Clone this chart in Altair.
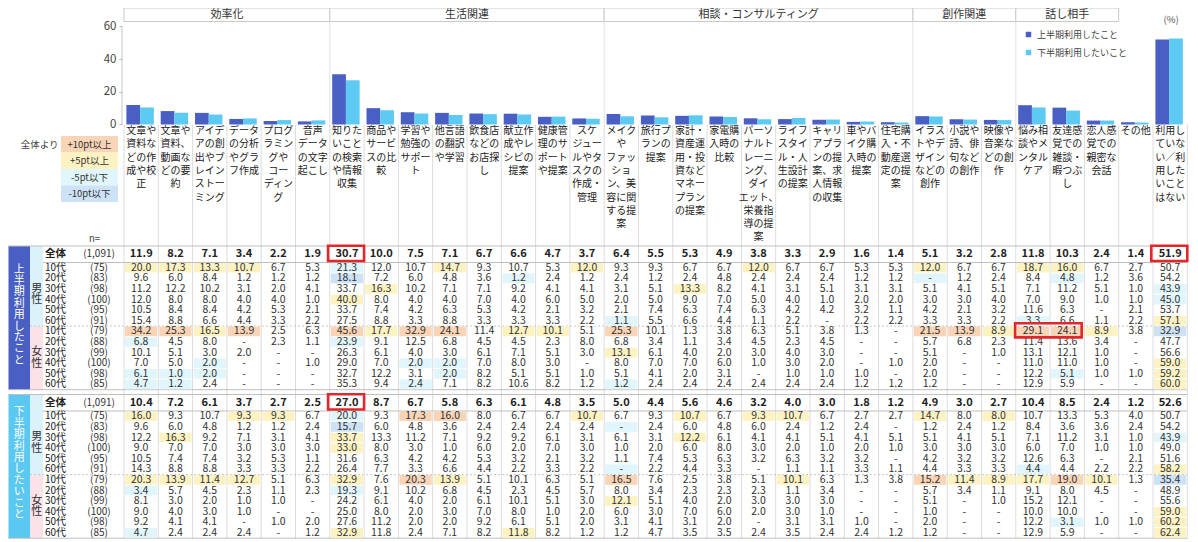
import altair as alt
import pandas as pd

FONT = "Noto Sans CJK JP"

# ---------------- data ----------------
group_names = ["効率化", "生活関連", "相談・コンサルティング", "創作関連", "話し相手"]
group_start = [0, 6, 14, 23, 26]
group_end = [6, 14, 23, 26, 29]

cat_labels = [
    "文章や\n資料な\nどの作\n成や校\n正",
    "文章や\n資料、\n動画な\nどの要\n約",
    "アイデ\nアの創\n出やブ\nレイン\nストー\nミング",
    "データ\nの分析\nやグラ\nフ作成",
    "プログ\nラミン\nグや\nコー\nディン\nグ",
    "音声\nデータ\nの文字\n起こし",
    "知りた\nいこと\nの検索\nや情報\n収集",
    "商品や\nサービ\nスの比\n較",
    "学習や\n勉強の\nサポー\nト",
    "他言語\nの翻訳\nや学習",
    "飲食店\nなどの\nお店探\nし",
    "献立作\n成やレ\nシピの\n提案",
    "健康管\n理のサ\nポート\nや提案",
    "スケ\nジュー\nルやタ\nスクの\n作成・\n管理",
    "メイク\nや\nファッ\nショ\nン、美\n容に関\nする提\n案",
    "旅行プ\nランの\n提案",
    "家計・\n資産運\n用・投\n資など\nマネー\nプラン\nの提案",
    "家電購\n入時の\n比較",
    "パーソ\nナルト\nレーニ\nング、\nダイ\nエット、\n栄養指\n導の提\n案",
    "ライフ\nスタイ\nル・人\n生設計\nの提案",
    "キャリ\nアプラ\nンの提\n案、求\n人情報\nの収集",
    "車やバ\nイク購\n入時の\n提案",
    "住宅購\n入・不\n動産選\n定の提\n案",
    "イラス\nトやデ\nザイン\nなどの\n創作",
    "小説や\n詩、俳\n句など\nの創作",
    "映像や\n音楽な\nどの創\n作",
    "悩み相\n談やメ\nンタル\nケア",
    "友達感\n覚での\n雑談・\n暇つぶ\nし",
    "恋人感\n覚での\n親密な\n会話",
    "その他",
    "利用し\nていな\nい／利\n用した\nいこと\nはない",
]

series_names = ["上半期利用したこと", "下半期利用したいこと"]
series_colors = ["#4a5fc4", "#5ccaf2"]

ages = ["10代", "20代", "30代", "40代", "50代", "60代"]
n_total = 1091
n_male = [75, 83, 98, 100, 95, 91]
n_female = [79, 88, 99, 100, 98, 85]

_ = None
# 上半期利用したこと
h1_total = [11.9, 8.2, 7.1, 3.4, 2.2, 1.9, 30.7, 10.0, 7.5, 7.1, 6.7, 6.6, 4.7, 3.7, 6.4, 5.5, 5.3, 4.9, 3.8, 3.3, 2.9, 1.6, 1.4, 5.1, 3.2, 2.8, 11.8, 10.3, 2.4, 1.4, 51.9]
h1_m10 = [20.0, 17.3, 13.3, 10.7, 6.7, 5.3, 21.3, 12.0, 10.7, 14.7, 9.3, 10.7, 5.3, 12.0, 9.3, 9.3, 6.7, 6.7, 12.0, 6.7, 6.7, 5.3, 5.3, 12.0, 6.7, 6.7, 18.7, 16.0, 6.7, 2.7, 50.7]
h1_m20 = [9.6, 6.0, 8.4, 1.2, 1.2, 1.2, 18.1, 7.2, 6.0, 4.8, 3.6, 1.2, 2.4, 1.2, 2.4, 1.2, 2.4, 4.8, 2.4, 2.4, 2.4, 1.2, 1.2, _, 1.2, 2.4, 8.4, 4.8, 1.2, 3.6, 54.2]
h1_m30 = [11.2, 12.2, 10.2, 3.1, 2.0, 4.1, 33.7, 16.3, 10.2, 7.1, 7.1, 9.2, 4.1, 4.1, 3.1, 5.1, 13.3, 8.2, 4.1, 3.1, 5.1, 3.1, 3.1, 5.1, 4.1, 5.1, 7.1, 11.2, 5.1, 1.0, 43.9]
h1_m40 = [12.0, 8.0, 8.0, 4.0, 4.0, 1.0, 40.0, 8.0, 4.0, 4.0, 7.0, 4.0, 6.0, 5.0, 2.0, 5.0, 9.0, 7.0, 5.0, 4.0, 1.0, 2.0, 2.0, 3.0, 3.0, 4.0, 7.0, 9.0, 1.0, 1.0, 45.0]
h1_m50 = [10.5, 8.4, 8.4, 4.2, 5.3, 2.1, 33.7, 7.4, 4.2, 6.3, 5.3, 4.2, 2.1, 3.2, 2.1, 7.4, 6.3, 7.4, 6.3, 4.2, 4.2, 3.2, 1.1, 4.2, 2.1, 3.2, 11.6, 6.3, _, 2.1, 53.7]
h1_m60 = [15.4, 8.8, 6.6, 4.4, 3.3, 2.2, 27.5, 8.8, 3.3, 8.8, 3.3, 3.3, 3.3, 2.2, 1.1, 5.5, 6.6, 4.4, 1.1, 2.2, _, 2.2, 2.2, 3.3, 3.3, 2.2, 3.3, 6.6, 1.1, 2.2, 57.1]
h1_f10 = [34.2, 25.3, 16.5, 13.9, 2.5, 6.3, 45.6, 17.7, 32.9, 24.1, 11.4, 12.7, 10.1, 5.1, 25.3, 10.1, 1.3, 3.8, 6.3, 5.1, 3.8, 1.3, _, 21.5, 13.9, 8.9, 29.1, 24.1, 8.9, 3.8, 32.9]
h1_f20 = [6.8, 4.5, 8.0, _, 2.3, 1.1, 23.9, 9.1, 12.5, 6.8, 4.5, 4.5, 2.3, 8.0, 6.8, 3.4, 1.1, 3.4, 4.5, 2.3, 4.5, _, _, 5.7, 6.8, 2.3, 11.4, 13.6, 3.4, _, 47.7]
h1_f30 = [10.1, 5.1, 3.0, 2.0, _, _, 26.3, 6.1, 4.0, 3.0, 6.1, 7.1, 5.1, 3.0, 13.1, 6.1, 4.0, 2.0, 3.0, 4.0, 3.0, _, _, 5.1, _, 1.0, 13.1, 12.1, 1.0, _, 56.6]
h1_f40 = [7.0, 5.0, 2.0, _, _, 1.0, 29.0, 7.0, 2.0, 2.0, 7.0, 8.0, 3.0, _, 8.0, 7.0, 7.0, 6.0, 1.0, 3.0, 2.0, _, 1.0, 2.0, _, _, 11.0, 11.0, 1.0, _, 59.0]
h1_f50 = [6.1, 1.0, 2.0, _, _, _, 32.7, 12.2, 3.1, 2.0, 8.2, 5.1, 5.1, 1.0, 5.1, 4.1, 2.0, 3.1, _, 1.0, 1.0, 1.0, _, 2.0, _, _, 12.2, 5.1, 1.0, 1.0, 59.2]
h1_f60 = [4.7, 1.2, 2.4, _, _, _, 35.3, 9.4, 2.4, 7.1, 8.2, 10.6, 8.2, 1.2, 1.2, 2.4, 2.4, 2.4, 2.4, 2.4, 2.4, 1.2, 1.2, 1.2, _, _, 12.9, 5.9, _, _, 60.0]

# 下半期利用したいこと
h2_total = [10.4, 7.2, 6.1, 3.7, 2.7, 2.5, 27.0, 8.7, 6.7, 5.8, 6.3, 6.1, 4.8, 3.5, 5.0, 4.4, 5.6, 4.6, 3.2, 4.0, 3.0, 1.8, 1.2, 4.9, 3.0, 2.7, 10.4, 8.5, 2.4, 1.2, 52.6]
h2_m10 = [16.0, 9.3, 10.7, 9.3, 9.3, 6.7, 20.0, 9.3, 17.3, 16.0, 8.0, 6.7, 6.7, 10.7, 6.7, 9.3, 10.7, 6.7, 9.3, 10.7, 6.7, 2.7, 2.7, 14.7, 8.0, 8.0, 10.7, 13.3, 5.3, 4.0, 50.7]
h2_m20 = [9.6, 6.0, 4.8, 1.2, 1.2, 2.4, 15.7, 6.0, 4.8, 3.6, 2.4, 2.4, 2.4, 2.4, _, 2.4, 6.0, 4.8, 6.0, 2.4, 1.2, 2.4, _, 1.2, 2.4, 1.2, 8.4, 3.6, 3.6, 2.4, 54.2]
h2_m30 = [12.2, 16.3, 9.2, 7.1, 3.1, 4.1, 33.7, 13.3, 11.2, 7.1, 9.2, 9.2, 6.1, 3.1, 6.1, 3.1, 12.2, 6.1, 4.1, 4.1, 5.1, 4.1, 5.1, 5.1, 4.1, 5.1, 7.1, 11.2, 3.1, 1.0, 43.9]
h2_m40 = [9.0, 7.0, 7.0, 3.0, 3.0, 3.0, 33.0, 8.0, 3.0, 1.0, 6.0, 2.0, 7.0, 3.0, 1.0, 2.0, 6.0, 8.0, 3.0, 2.0, 1.0, 2.0, 1.0, 3.0, 3.0, 3.0, 6.0, 7.0, 1.0, 1.0, 49.0]
h2_m50 = [10.5, 7.4, 7.4, 3.2, 5.3, 1.1, 31.6, 6.3, 4.2, 4.2, 5.3, 3.2, 2.1, 3.2, 1.1, 7.4, 5.3, 6.3, 3.2, 6.3, 3.2, 3.2, _, 4.2, 3.2, 3.2, 12.6, 6.3, _, 2.1, 51.6]
h2_m60 = [14.3, 8.8, 8.8, 3.3, 3.3, 2.2, 26.4, 7.7, 3.3, 6.6, 4.4, 2.2, 3.3, 2.2, _, 2.2, 4.4, 3.3, _, 1.1, 1.1, 3.3, 1.1, 4.4, 3.3, 3.3, 4.4, 4.4, 2.2, 2.2, 58.2]
h2_f10 = [20.3, 13.9, 11.4, 12.7, 5.1, 6.3, 32.9, 7.6, 20.3, 13.9, 5.1, 10.1, 6.3, 5.1, 16.5, 7.6, 2.5, 3.8, 5.1, 10.1, 6.3, 1.3, 3.8, 15.2, 11.4, 8.9, 17.7, 19.0, 10.1, 1.3, 35.4]
h2_f20 = [3.4, 5.7, 4.5, 2.3, 1.1, 2.3, 19.3, 9.1, 10.2, 6.8, 4.5, 2.3, 4.5, 5.7, 8.0, 3.4, 2.3, 2.3, 2.3, 1.1, 3.4, _, _, 5.7, 3.4, 1.1, 9.1, 8.0, 4.5, _, 48.9]
h2_f30 = [8.1, 3.0, 2.0, 1.0, 1.0, _, 24.2, 6.1, 4.0, 2.0, 6.1, 10.1, 5.1, 3.0, 12.1, 5.1, 4.0, 2.0, 3.0, 3.0, 3.0, _, _, 5.1, _, 1.0, 15.2, 12.1, _, _, 55.6]
h2_f40 = [9.0, 4.0, 3.0, 1.0, _, _, 25.0, 8.0, 2.0, 3.0, 7.0, 8.0, 1.0, 2.0, 6.0, 3.0, 7.0, 6.0, 2.0, 3.0, 1.0, _, _, 1.0, _, _, 10.0, 10.0, _, _, 59.0]
h2_f50 = [9.2, 4.1, 4.1, _, 1.0, 2.0, 27.6, 11.2, 2.0, 2.0, 9.2, 6.1, 5.1, 2.0, 3.1, 4.1, 3.1, 2.0, _, 3.1, 3.1, 1.0, _, 2.0, _, _, 12.2, 3.1, 1.0, 1.0, 60.2]
h2_f60 = [4.7, 2.4, 2.4, 2.4, _, 1.2, 32.9, 11.8, 2.4, 7.1, 8.2, 11.8, 8.2, 1.2, 1.2, 4.7, 3.5, 3.5, 2.4, 3.5, 2.4, 2.4, 1.2, 1.2, _, _, 12.9, 5.9, _, _, 62.4]

diff_labels = ["+10pt以上", "+5pt以上", "-5pt以下", "-10pt以下"]
diff_colors = ["#f9d4b6", "#fdf3c2", "#e0f5fc", "#cde2f6"]
highlight_cells = [(0, "total", 6), (0, "total", 30), (1, "total", 6)]
highlight_span = (0, "f10", 26, 28)

# ---------------- layout helpers ----------------
COLW = 34.3
X0 = 124.0


def U(px):
    return (px - X0) / COLW


XS = alt.Scale(domain=[U(8), U(1190)], nice=False, zero=False)
TY = alt.Scale(domain=[5, 537], reverse=True, nice=False, zero=False)
BY = alt.Scale(domain=[-253.87, 71.18], nice=False, zero=False)


def X(f="x"):
    return alt.X(f + ":Q", scale=XS, axis=None)


def YT(f="y"):
    return alt.Y(f + ":Q", scale=TY, axis=None)


ROWH = 10.6
SEC_LH = 11.4
sections = [
    dict(top=243.0, title="上半期利用したこと", color="#4a5fc4",
         total=h1_total, male=[h1_m10, h1_m20, h1_m30, h1_m40, h1_m50, h1_m60],
         female=[h1_f10, h1_f20, h1_f30, h1_f40, h1_f50, h1_f60]),
    dict(top=391.5, title="下半期利用したいこと", color="#5ac8f0",
         total=h2_total, male=[h2_m10, h2_m20, h2_m30, h2_m40, h2_m50, h2_m60],
         female=[h2_f10, h2_f20, h2_f30, h2_f40, h2_f50, h2_f60]),
]


def diff_color(v, t, n):
    ve = round((v or 0.0) * n / 100.0) / n * 100.0
    te = round(t * n_total / 100.0) / n_total * 100.0
    d = ve - te
    if d >= 10:
        return diff_colors[0]
    if d >= 5:
        return diff_colors[1]
    if d <= -10:
        return diff_colors[3]
    if d <= -5:
        return diff_colors[2]
    return None


def fmt(v):
    return "-" if v is None else f"{v:.1f}"


cells_bg, cells_txt, total_txt = [], [], []
row_lbl, n_lbl, total_lbl = [], [], []
sec_rects, sec_text, sex_rects, sex_text, hlines, dlines, red = [], [], [], [], [], [], []
row_centers = {}

for si, s in enumerate(sections):
    top = s["top"]
    data_top = top + 16.5
    bottom = data_top + 12 * ROWH
    tc = top + 8.2
    row_centers[(si, "total")] = tc
    for c, v in enumerate(s["total"]):
        total_txt.append(dict(x=c + 0.5, y=tc, t=fmt(v)))
    total_lbl.append(dict(x=U(45), y=tc, t="全体"))
    n_lbl.append(dict(x=U(99), y=tc, t=f"({n_total:,})"))
    rows = [("m", k, s["male"][k], n_male[k]) for k in range(6)] + \
           [("f", k, s["female"][k], n_female[k]) for k in range(6)]
    for r, (sex, k, vals, n) in enumerate(rows):
        yc = data_top + ROWH * r + ROWH / 2
        row_centers[(si, f"{sex}{k + 1}0")] = yc
        row_lbl.append(dict(x=U(45), y=yc, t=ages[k]))
        n_lbl.append(dict(x=U(99), y=yc, t=f"({n})"))
        for c, v in enumerate(vals):
            col = diff_color(v, s["total"][c], n)
            if col:
                cells_bg.append(dict(x=c + 0.03, x2=c + 0.97, y=yc - ROWH / 2 + 0.5,
                                     y2=yc + ROWH / 2 - 0.5, fill=col))
            cells_txt.append(dict(x=c + 0.5, y=yc, t=fmt(v)))
    mid = data_top + 6 * ROWH
    sec_rects.append(dict(x=U(8.5), x2=U(30), y=top, y2=bottom, fill=s["color"]))
    nch = len(s["title"])
    sec_text.append(dict(x=U(19.2), y=(top + bottom) / 2 - 3 - nch * SEC_LH / 2, t="\n".join(s["title"])))
    sex_rects.append(dict(x=U(30), x2=U(43), y=top, y2=mid, fill="#dcf2fb"))
    sex_rects.append(dict(x=U(30), x2=U(43), y=mid, y2=bottom, fill="#fbe2e7"))
    sex_text.append(dict(x=U(36.8), y=(data_top + mid) / 2 - 11.5, t="男\n性"))
    sex_text.append(dict(x=U(36.8), y=(mid + bottom) / 2 - 11.5, t="女\n性"))
    hlines += [dict(x=U(8), x2=U(1187), y=top), dict(x=U(43), x2=U(1187), y=data_top),
               dict(x=U(8), x2=U(1187), y=bottom)]
    dlines.append(dict(x=U(30), x2=U(1187), y=mid))

for si, key, c in highlight_cells:
    yc = row_centers[(si, key)]
    red.append(dict(x=c - 0.05, x2=c + 1.0, y=yc - 8.5, y2=yc + 6.8))
si, key, c0, c1 = highlight_span
yc = row_centers[(si, key)]
red.append(dict(x=c0 - 0.02, x2=c1 - 0.08, y=yc - 8.2, y2=yc + 6.0))

DF = pd.DataFrame
layers = []

# group header boxes
gh = DF(dict(x=group_start, x2=group_end, y=[5.0] * 5, y2=[18.5] * 5,
             xc=[(a + b) / 2 for a, b in zip(group_start, group_end)], yc=[12.0] * 5, t=group_names))
layers.append(alt.Chart(gh).mark_rect(fill="white", stroke="#c9c9c9", strokeWidth=1).encode(
    x=X(), x2="x2:Q", y=YT(), y2="y2:Q"))
layers.append(alt.Chart(gh).mark_text(font=FONT, fontSize=11, color="#333333", baseline="middle").encode(
    x=X("xc"), y=YT("yc"), text="t:N"))

# group separators in bar area
gsep = DF(dict(x=[6, 14, 23, 26], y=[18.5] * 4, y2=[121.5] * 4))
layers.append(alt.Chart(gsep).mark_rule(color="#e2e2e2", strokeWidth=1).encode(x=X(), y=YT(), y2="y2:Q"))

# column separators (label area + table)
csep = DF(dict(x=list(range(0, 32)), y=[121.5] * 32, y2=[536.0] * 32))
layers.append(alt.Chart(csep).mark_rule(color="#dcdcdc", strokeWidth=1).encode(x=X(), y=YT(), y2="y2:Q"))

# bars
bar_rows = []
for i in range(len(cat_labels)):
    for s_i, vals in enumerate([h1_total, h2_total]):
        bar_rows.append(dict(x=i + 0.07 + 0.40 * s_i, x2=i + 0.47 + 0.40 * s_i, v=vals[i], v0=0.0,
                             series=series_names[s_i]))
bars = DF(bar_rows)
layers.append(alt.Chart(bars).mark_rect().encode(
    x=X(), x2="x2:Q",
    y=alt.Y("v:Q", scale=BY, axis=alt.Axis(values=[0, 20, 40, 60], offset=-114, domain=False, grid=False,
                                           tickSize=3, tickColor="#bbbbbb", labelFont=FONT, labelFontSize=11.5,
                                           labelColor="#444444", labelPadding=3, title=None)),
    y2="v0:Q",
    color=alt.Color("series:N", scale=alt.Scale(domain=series_names, range=series_colors),
                    legend=alt.Legend(orient="none", legendX=1016, legendY=22, title=None, symbolType="square",
                                      symbolSize=30, labelFont=FONT, labelFontSize=9, labelColor="#444444",
                                      rowPadding=8, symbolStrokeWidth=0)),
))
axl = DF(dict(x=[-0.06], v=[0.0], v2=[60.0]))
layers.append(alt.Chart(axl).mark_rule(color="#c4c4c4", strokeWidth=1).encode(
    x=X(), y=alt.Y("v:Q", scale=BY, axis=None), y2="v2:Q"))

# category labels
cl = DF(dict(x=[i + 0.5 for i in range(len(cat_labels))], y=[123.0] * len(cat_labels), t=cat_labels))
layers.append(alt.Chart(cl).mark_text(font=FONT, fontSize=10, color="#222222", baseline="top",
                                      lineBreak="\n", lineHeight=13.3).encode(x=X(), y=YT(), text="t:N"))

# diff legend
lg = DF(dict(x=[U(61)] * 4, x2=[U(118)] * 4, y=[133.0, 149.5, 166.0, 182.5], y2=[149.5, 166.0, 182.5, 199.0],
             fill=diff_colors, xc=[U(89.5)] * 4, yc=[141.5, 158.0, 174.5, 191.0], t=diff_labels))
layers.append(alt.Chart(lg).mark_rect().encode(x=X(), x2="x2:Q", y=YT(), y2="y2:Q",
                                               fill=alt.Fill("fill:N", scale=None)))
layers.append(alt.Chart(lg).mark_text(font=FONT, fontSize=9.5, color="#333333").encode(
    x=X("xc"), y=YT("yc"), text="t:N"))
misc_r = DF(dict(x=[U(58.5), U(100)], y=[141.5, 236.0], t=["全体より", "n="]))
layers.append(alt.Chart(misc_r).mark_text(font=FONT, fontSize=9.5, color="#444444", align="right").encode(
    x=X(), y=YT(), text="t:N"))
misc_c = DF(dict(x=[U(1171)], y=[16.5], t=["(%)"]))
layers.append(alt.Chart(misc_c).mark_text(font=FONT, fontSize=9.5, color="#555555", align="center").encode(
    x=X(), y=YT(), text="t:N"))

# table: section bars & sex column
layers.append(alt.Chart(DF(sec_rects)).mark_rect().encode(x=X(), x2="x2:Q", y=YT(), y2="y2:Q",
                                                          fill=alt.Fill("fill:N", scale=None)))
layers.append(alt.Chart(DF(sec_text)).mark_text(font=FONT, fontSize=11, color="white", lineBreak="\n",
                                                lineHeight=SEC_LH, baseline="top").encode(
    x=X(), y=YT(), text="t:N"))
layers.append(alt.Chart(DF(sex_rects)).mark_rect().encode(x=X(), x2="x2:Q", y=YT(), y2="y2:Q",
                                                          fill=alt.Fill("fill:N", scale=None)))
layers.append(alt.Chart(DF(sex_text)).mark_text(font=FONT, fontSize=11, color="#333333", lineBreak="\n",
                                                lineHeight=11.5, baseline="top").encode(
    x=X(), y=YT(), text="t:N"))

# table lines
layers.append(alt.Chart(DF(hlines)).mark_rule(color="#bfbfbf", strokeWidth=1).encode(x=X(), x2="x2:Q", y=YT()))
layers.append(alt.Chart(DF(dlines)).mark_rule(color="#c8c8c8", strokeWidth=1, strokeDash=[2, 2]).encode(
    x=X(), x2="x2:Q", y=YT()))

# cells
layers.append(alt.Chart(DF(cells_bg)).mark_rect().encode(x=X(), x2="x2:Q", y=YT(), y2="y2:Q",
                                                         fill=alt.Fill("fill:N", scale=None)))
layers.append(alt.Chart(DF(cells_txt)).mark_text(font=FONT, fontSize=10.5, color="#333333", baseline="middle").encode(
    x=X(), y=YT(), text="t:N"))
layers.append(alt.Chart(DF(total_txt)).mark_text(font=FONT, fontSize=11, fontWeight="bold", color="#222222",
                                                 baseline="middle").encode(x=X(), y=YT(), text="t:N"))

# row labels
layers.append(alt.Chart(DF(total_lbl)).mark_text(font=FONT, fontSize=10.5, fontWeight="bold", color="#222222",
                                                 align="left", baseline="middle").encode(x=X(), y=YT(), text="t:N"))
layers.append(alt.Chart(DF(row_lbl)).mark_text(font=FONT, fontSize=10, color="#222222", align="left",
                                               baseline="middle").encode(x=X(), y=YT(), text="t:N"))
layers.append(alt.Chart(DF(n_lbl)).mark_text(font=FONT, fontSize=10, color="#333333", align="center",
                                             baseline="middle").encode(x=X(), y=YT(), text="t:N"))

# red highlight boxes
layers.append(alt.Chart(DF(red)).mark_rect(fillOpacity=0, stroke="#e3262b", strokeWidth=2.6).encode(
    x=X(), x2="x2:Q", y=YT(), y2="y2:Q"))

chart = alt.layer(*layers).resolve_scale(y="independent").properties(
    width=1182, height=532,
    autosize=alt.AutoSizeParams(type="none"),
    padding=0,
).configure(font=FONT, background="white").configure_view(stroke=None)

chart.save("out.html", embed_options={"renderer": "svg", "actions": False})
